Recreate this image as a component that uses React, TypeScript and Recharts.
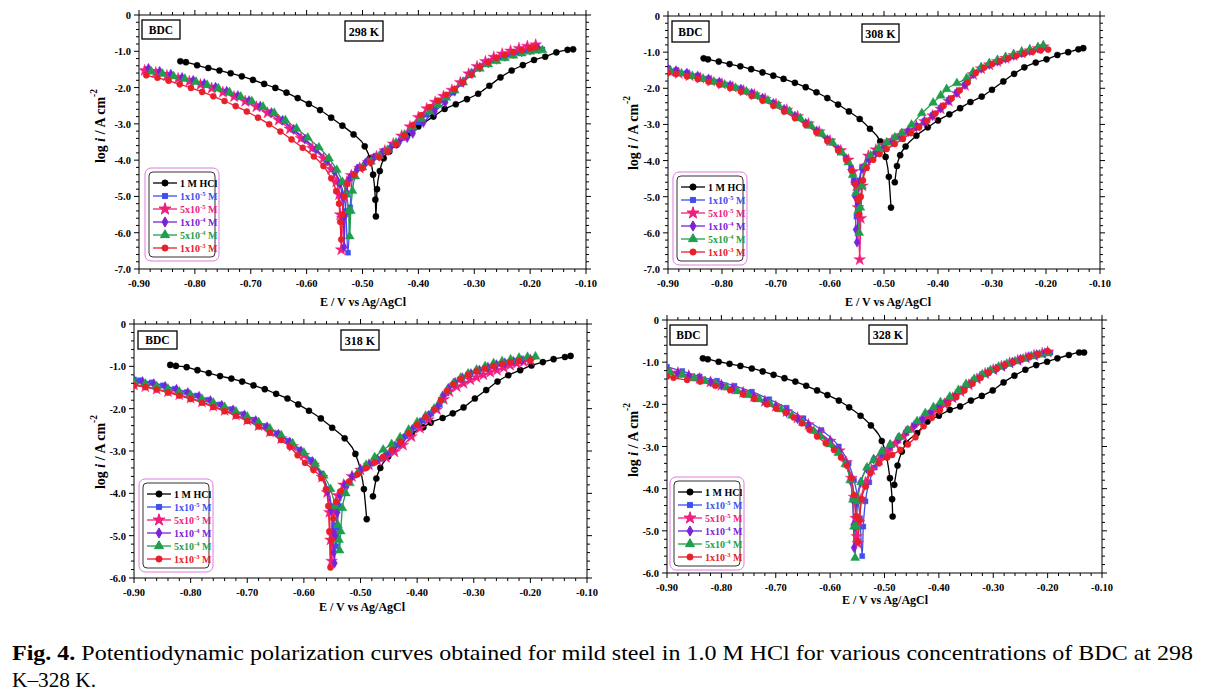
import React from 'react';
import { LineChart, Line, XAxis, YAxis, Symbols } from 'recharts';

type P = [number, number | null];

const FONT = '"Liberation Serif", "Times New Roman", serif';

// ---------- series meta ----------
const SERIES_NAMES = ['1 M HCl', '1x10-5 M', '5x10-5 M', '1x10-4 M', '5x10-4 M', '1x10-3 M'];
const LEGEND_PARTS: string[][] = [
  ['1 M HCl'],
  ['1x10', '-5', ' M'],
  ['5x10', '-5', ' M'],
  ['1x10', '-4', ' M'],
  ['5x10', '-4', ' M'],
  ['1x10', '-3', ' M'],
];
const SERIES_COLORS = ['#000000', '#3d4ff0', '#f01e7c', '#7b22d8', '#1f9e4c', '#e8202a'];
const SERIES_SHAPES = ['circle', 'square', 'star', 'diamond', 'triangle', 'circle'];
const SHAPE_SIZE: Record<string, number> = { circle: 30, square: 26, star: 44, diamond: 30, triangle: 36 };

// ---------- ticks ----------
const X_MAJOR = [-0.9, -0.8, -0.7, -0.6, -0.5, -0.4, -0.3, -0.2, -0.1];
const Y_MAJOR_7 = [0, -1, -2, -3, -4, -5, -6, -7];
const Y_MAJOR_6 = [0, -1, -2, -3, -4, -5, -6];
const PANEL_TEMPS = ['298 K', '308 K', '318 K', '328 K'];

// ---------- 298 K ----------
const hcl298: P[] = [[-0.826,-1.275],[-0.816,-1.30],[-0.796,-1.385],[-0.776,-1.46],[-0.756,-1.53],[-0.736,-1.605],[-0.716,-1.69],[-0.696,-1.79],[-0.676,-1.90],[-0.656,-2.01],[-0.636,-2.14],[-0.616,-2.29],[-0.596,-2.45],[-0.576,-2.62],[-0.556,-2.83],[-0.536,-3.05],[-0.516,-3.29],[-0.496,-3.62],[-0.487,-3.95],[-0.481,-4.40],[-0.477,-5.09],[-0.476,-5.55],[-0.474,-4.80],[-0.469,-4.30],[-0.462,-3.95],[-0.452,-3.76],[-0.44,-3.58],[-0.42,-3.32],[-0.40,-3.07],[-0.373,-2.80],[-0.353,-2.59],[-0.333,-2.46],[-0.313,-2.32],[-0.293,-2.17],[-0.273,-1.95],[-0.253,-1.72],[-0.233,-1.53],[-0.213,-1.38],[-0.193,-1.24],[-0.173,-1.15],[-0.153,-1.03],[-0.133,-0.96],[-0.123,-0.945]];
const blue298: P[] = [[-0.885,-1.49],[-0.865,-1.57],[-0.845,-1.65],[-0.825,-1.73],[-0.805,-1.81],[-0.785,-1.90],[-0.765,-2.00],[-0.745,-2.11],[-0.725,-2.23],[-0.705,-2.36],[-0.685,-2.52],[-0.665,-2.69],[-0.645,-2.90],[-0.625,-3.16],[-0.605,-3.42],[-0.585,-3.70],[-0.565,-4.00],[-0.55,-4.30],[-0.54,-4.62],[-0.534,-4.95],[-0.530,-5.40],[-0.526,-6.55],[-0.522,-5.3],[-0.517,-4.38],[-0.505,-4.18],[-0.49,-4.02],[-0.475,-3.88],[-0.46,-3.74],[-0.445,-3.57],[-0.43,-3.38],[-0.415,-3.17],[-0.40,-2.96],[-0.385,-2.75],[-0.37,-2.55],[-0.355,-2.36],[-0.34,-2.14],[-0.325,-1.90],[-0.31,-1.66],[-0.295,-1.47],[-0.28,-1.34],[-0.265,-1.23],[-0.25,-1.15],[-0.235,-1.08],[-0.22,-1.03],[-0.205,-0.99],[-0.19,-0.96],[-0.178,-0.95]];
const pink298: P[] = [[-0.89,-1.53],[-0.87,-1.59],[-0.85,-1.67],[-0.83,-1.75],[-0.81,-1.83],[-0.79,-1.92],[-0.77,-2.02],[-0.75,-2.13],[-0.73,-2.25],[-0.71,-2.38],[-0.69,-2.53],[-0.67,-2.70],[-0.65,-2.90],[-0.63,-3.14],[-0.61,-3.40],[-0.59,-3.67],[-0.57,-3.95],[-0.556,-4.25],[-0.547,-4.60],[-0.542,-4.95],[-0.540,-5.5],[-0.538,-6.47],[-0.536,-5.6],[-0.533,-5.0],[-0.528,-4.6],[-0.52,-4.42],[-0.505,-4.22],[-0.49,-4.06],[-0.475,-3.90],[-0.46,-3.74],[-0.445,-3.55],[-0.43,-3.33],[-0.415,-3.08],[-0.40,-2.82],[-0.385,-2.58],[-0.37,-2.40],[-0.355,-2.24],[-0.34,-2.07],[-0.325,-1.86],[-0.31,-1.62],[-0.295,-1.42],[-0.28,-1.28],[-0.265,-1.16],[-0.25,-1.07],[-0.235,-0.99],[-0.22,-0.92],[-0.205,-0.86],[-0.19,-0.82]];
const purple298: P[] = [[-0.883,-1.47],[-0.863,-1.55],[-0.843,-1.63],[-0.823,-1.72],[-0.803,-1.80],[-0.783,-1.89],[-0.763,-1.99],[-0.743,-2.10],[-0.723,-2.22],[-0.703,-2.36],[-0.683,-2.51],[-0.663,-2.69],[-0.643,-2.90],[-0.623,-3.15],[-0.603,-3.42],[-0.583,-3.70],[-0.563,-4.02],[-0.550,-4.32],[-0.541,-4.65],[-0.536,-5.0],[-0.534,-5.6],[-0.533,-6.39],[-0.531,-5.5],[-0.528,-4.9],[-0.523,-4.5],[-0.51,-4.25],[-0.495,-4.08],[-0.48,-3.94],[-0.465,-3.80],[-0.45,-3.66],[-0.435,-3.52],[-0.42,-3.38],[-0.41,-3.26],[-0.391,-2.96],[-0.371,-2.66],[-0.352,-2.41],[-0.335,-2.10],[-0.32,-1.84],[-0.305,-1.60],[-0.29,-1.44],[-0.275,-1.32],[-0.26,-1.22],[-0.245,-1.14],[-0.23,-1.07],[-0.215,-1.02],[-0.20,-0.97],[-0.185,-0.93]];
const green298: P[] = [[-0.878,-1.56],[-0.858,-1.62],[-0.838,-1.69],[-0.818,-1.76],[-0.798,-1.84],[-0.778,-1.93],[-0.758,-2.02],[-0.738,-2.13],[-0.718,-2.25],[-0.698,-2.38],[-0.678,-2.53],[-0.658,-2.70],[-0.638,-2.90],[-0.618,-3.13],[-0.598,-3.38],[-0.578,-3.65],[-0.560,-3.95],[-0.546,-4.27],[-0.536,-4.60],[-0.529,-4.95],[-0.525,-5.4],[-0.523,-6.10],[-0.521,-5.4],[-0.518,-4.85],[-0.513,-4.45],[-0.50,-4.20],[-0.485,-4.04],[-0.47,-3.88],[-0.455,-3.72],[-0.44,-3.52],[-0.425,-3.30],[-0.41,-3.08],[-0.395,-2.86],[-0.38,-2.66],[-0.365,-2.47],[-0.35,-2.28],[-0.335,-2.08],[-0.32,-1.86],[-0.305,-1.64],[-0.29,-1.48],[-0.275,-1.36],[-0.26,-1.27],[-0.245,-1.19],[-0.23,-1.12],[-0.215,-1.06],[-0.20,-1.01],[-0.188,-0.98],[-0.178,-0.97]];
const red298: P[] = [[-0.887,-1.66],[-0.867,-1.73],[-0.847,-1.81],[-0.827,-1.91],[-0.807,-2.01],[-0.787,-2.12],[-0.767,-2.24],[-0.747,-2.37],[-0.727,-2.51],[-0.707,-2.66],[-0.687,-2.83],[-0.667,-3.01],[-0.647,-3.21],[-0.627,-3.43],[-0.607,-3.66],[-0.587,-3.90],[-0.570,-4.16],[-0.556,-4.50],[-0.547,-4.85],[-0.542,-5.2],[-0.540,-5.7],[-0.538,-6.19],[-0.536,-5.5],[-0.533,-5.0],[-0.527,-4.65],[-0.515,-4.40],[-0.50,-4.22],[-0.485,-4.06],[-0.47,-3.92],[-0.455,-3.76],[-0.44,-3.56],[-0.425,-3.32],[-0.41,-3.04],[-0.395,-2.76],[-0.38,-2.54],[-0.365,-2.36],[-0.35,-2.20],[-0.335,-2.04],[-0.32,-1.86],[-0.305,-1.64],[-0.29,-1.44],[-0.275,-1.30],[-0.26,-1.18],[-0.245,-1.10],[-0.23,-1.03],[-0.215,-0.97],[-0.20,-0.92],[-0.19,-0.89]];

// ---------- 308 K ----------
const hcl308: P[] = [[-0.834,-1.17],[-0.826,-1.20],[-0.806,-1.26],[-0.786,-1.33],[-0.766,-1.39],[-0.746,-1.47],[-0.725,-1.56],[-0.705,-1.65],[-0.686,-1.74],[-0.665,-1.85],[-0.645,-1.97],[-0.625,-2.11],[-0.605,-2.27],[-0.585,-2.45],[-0.565,-2.64],[-0.545,-2.85],[-0.526,-3.12],[-0.507,-3.47],[-0.497,-3.90],[-0.491,-4.45],[-0.487,-5.30],[-0.4835,null],[-0.480,-4.60],[-0.476,-4.15],[-0.470,-3.85],[-0.460,-3.61],[-0.440,-3.31],[-0.419,-3.08],[-0.400,-2.89],[-0.379,-2.72],[-0.359,-2.55],[-0.340,-2.38],[-0.319,-2.23],[-0.300,-2.04],[-0.279,-1.81],[-0.259,-1.60],[-0.240,-1.42],[-0.219,-1.29],[-0.199,-1.20],[-0.179,-1.08],[-0.159,-1.00],[-0.140,-0.92],[-0.131,-0.89]];
const blue308: P[] = [[-0.900,-1.44],[-0.885,-1.50],[-0.865,-1.57],[-0.845,-1.65],[-0.825,-1.73],[-0.805,-1.82],[-0.785,-1.91],[-0.765,-2.01],[-0.745,-2.13],[-0.725,-2.26],[-0.705,-2.40],[-0.685,-2.57],[-0.665,-2.76],[-0.645,-2.96],[-0.625,-3.17],[-0.605,-3.40],[-0.585,-3.67],[-0.570,-3.93],[-0.561,-4.20],[-0.556,-4.55],[-0.553,-4.95],[-0.551,-5.55],[-0.549,-5.0],[-0.546,-4.55],[-0.541,-4.20],[-0.530,-3.95],[-0.515,-3.76],[-0.50,-3.60],[-0.485,-3.46],[-0.47,-3.32],[-0.455,-3.18],[-0.44,-3.04],[-0.425,-2.90],[-0.41,-2.74],[-0.395,-2.54],[-0.38,-2.32],[-0.365,-2.11],[-0.35,-1.90],[-0.335,-1.60],[-0.32,-1.45],[-0.305,-1.34],[-0.29,-1.26],[-0.275,-1.19],[-0.26,-1.12],[-0.245,-1.05],[-0.23,-0.98],[-0.215,-0.91],[-0.205,-0.86]];
const pink308: P[] = [[-0.895,-1.55],[-0.88,-1.59],[-0.86,-1.65],[-0.84,-1.72],[-0.82,-1.80],[-0.80,-1.88],[-0.78,-1.97],[-0.76,-2.07],[-0.74,-2.18],[-0.72,-2.30],[-0.70,-2.44],[-0.68,-2.60],[-0.66,-2.78],[-0.64,-2.98],[-0.62,-3.20],[-0.60,-3.45],[-0.58,-3.72],[-0.566,-3.98],[-0.557,-4.30],[-0.551,-4.70],[-0.548,-5.30],[-0.545,-6.74],[-0.543,-5.6],[-0.540,-4.7],[-0.535,-4.15],[-0.529,-3.87],[-0.515,-3.70],[-0.50,-3.57],[-0.485,-3.44],[-0.47,-3.31],[-0.455,-3.18],[-0.44,-3.05],[-0.425,-2.92],[-0.41,-2.76],[-0.395,-2.57],[-0.38,-2.36],[-0.365,-2.14],[-0.35,-1.92],[-0.335,-1.62],[-0.32,-1.46],[-0.305,-1.35],[-0.29,-1.26],[-0.275,-1.17],[-0.26,-1.09],[-0.245,-1.02],[-0.23,-0.96],[-0.215,-0.90],[-0.205,-0.85]];
const purple308: P[] = [[-0.90,-1.46],[-0.885,-1.51],[-0.865,-1.58],[-0.845,-1.66],[-0.825,-1.74],[-0.805,-1.83],[-0.785,-1.92],[-0.765,-2.02],[-0.745,-2.14],[-0.725,-2.27],[-0.705,-2.42],[-0.685,-2.58],[-0.665,-2.77],[-0.645,-2.97],[-0.625,-3.18],[-0.605,-3.42],[-0.585,-3.69],[-0.570,-3.95],[-0.561,-4.25],[-0.556,-4.60],[-0.553,-5.0],[-0.552,-5.91],[-0.550,-6.26],[-0.548,-5.2],[-0.545,-4.6],[-0.540,-4.22],[-0.528,-3.97],[-0.515,-3.78],[-0.50,-3.62],[-0.485,-3.48],[-0.47,-3.34],[-0.455,-3.20],[-0.44,-3.07],[-0.425,-2.93],[-0.41,-2.76],[-0.395,-2.55],[-0.38,-2.33],[-0.365,-2.12],[-0.35,-1.90],[-0.335,-1.60],[-0.32,-1.45],[-0.305,-1.34],[-0.29,-1.25],[-0.275,-1.17],[-0.26,-1.09],[-0.245,-1.02],[-0.23,-0.96],[-0.215,-0.89],[-0.205,-0.84]];
const green308: P[] = [[-0.895,-1.53],[-0.875,-1.59],[-0.855,-1.66],[-0.835,-1.74],[-0.815,-1.82],[-0.795,-1.90],[-0.775,-1.99],[-0.755,-2.09],[-0.735,-2.21],[-0.715,-2.34],[-0.695,-2.48],[-0.675,-2.64],[-0.655,-2.83],[-0.635,-3.04],[-0.615,-3.26],[-0.595,-3.51],[-0.578,-3.78],[-0.566,-4.05],[-0.558,-4.40],[-0.552,-4.90],[-0.548,-5.40],[-0.546,-6.00],[-0.544,-5.3],[-0.541,-4.7],[-0.535,-4.15],[-0.525,-3.86],[-0.51,-3.66],[-0.495,-3.50],[-0.48,-3.36],[-0.467,-3.24],[-0.449,-3.01],[-0.43,-2.69],[-0.409,-2.40],[-0.395,-2.20],[-0.384,-2.02],[-0.365,-1.86],[-0.347,-1.72],[-0.335,-1.55],[-0.32,-1.42],[-0.305,-1.31],[-0.29,-1.22],[-0.275,-1.14],[-0.26,-1.06],[-0.245,-0.99],[-0.23,-0.93],[-0.215,-0.87],[-0.205,-0.82]];
const red308: P[] = [[-0.90,-1.57],[-0.885,-1.60],[-0.865,-1.67],[-0.845,-1.74],[-0.825,-1.82],[-0.805,-1.90],[-0.785,-1.99],[-0.765,-2.09],[-0.745,-2.21],[-0.725,-2.34],[-0.705,-2.48],[-0.685,-2.64],[-0.665,-2.82],[-0.645,-3.01],[-0.625,-3.22],[-0.605,-3.46],[-0.585,-3.72],[-0.570,-3.98],[-0.560,-4.28],[-0.553,-4.65],[-0.549,-5.08],[-0.546,-5.50],[-0.543,-5.0],[-0.539,-4.55],[-0.532,-4.20],[-0.52,-3.98],[-0.508,-3.82],[-0.495,-3.68],[-0.48,-3.54],[-0.465,-3.40],[-0.45,-3.24],[-0.435,-3.08],[-0.42,-2.90],[-0.405,-2.70],[-0.39,-2.48],[-0.375,-2.28],[-0.36,-2.06],[-0.345,-1.84],[-0.33,-1.58],[-0.315,-1.43],[-0.30,-1.33],[-0.285,-1.25],[-0.27,-1.17],[-0.255,-1.10],[-0.24,-1.04],[-0.225,-0.99],[-0.21,-0.95],[-0.196,-0.93]];

// ---------- 318 K ----------
const hcl318: P[] = [[-0.836,-0.967],[-0.826,-0.99],[-0.807,-1.02],[-0.788,-1.09],[-0.768,-1.16],[-0.748,-1.23],[-0.728,-1.29],[-0.709,-1.36],[-0.689,-1.45],[-0.669,-1.54],[-0.649,-1.65],[-0.629,-1.76],[-0.610,-1.90],[-0.591,-2.05],[-0.570,-2.23],[-0.550,-2.45],[-0.528,-2.70],[-0.509,-3.07],[-0.500,-3.45],[-0.494,-3.90],[-0.489,-4.61],[-0.4835,null],[-0.478,-4.07],[-0.472,-3.65],[-0.465,-3.40],[-0.451,-3.13],[-0.430,-2.82],[-0.410,-2.59],[-0.389,-2.44],[-0.376,-2.33],[-0.355,-2.22],[-0.337,-2.11],[-0.318,-1.97],[-0.298,-1.76],[-0.278,-1.56],[-0.258,-1.36],[-0.239,-1.21],[-0.218,-1.09],[-0.198,-0.98],[-0.178,-0.90],[-0.159,-0.83],[-0.139,-0.78],[-0.129,-0.755]];
const blue318: P[] = [[-0.90,-1.31],[-0.89,-1.33],[-0.869,-1.38],[-0.849,-1.45],[-0.828,-1.53],[-0.807,-1.61],[-0.789,-1.69],[-0.769,-1.79],[-0.748,-1.90],[-0.728,-2.01],[-0.707,-2.13],[-0.688,-2.26],[-0.668,-2.41],[-0.648,-2.58],[-0.628,-2.76],[-0.608,-2.97],[-0.588,-3.21],[-0.569,-3.55],[-0.558,-3.90],[-0.551,-4.30],[-0.547,-4.75],[-0.543,-5.25],[-0.541,-4.8],[-0.538,-4.3],[-0.532,-4.0],[-0.525,-3.82],[-0.51,-3.58],[-0.495,-3.42],[-0.48,-3.30],[-0.465,-3.19],[-0.45,-3.05],[-0.435,-2.86],[-0.42,-2.65],[-0.405,-2.44],[-0.39,-2.28],[-0.375,-2.12],[-0.36,-1.90],[-0.348,-1.64],[-0.338,-1.45],[-0.325,-1.31],[-0.31,-1.20],[-0.295,-1.12],[-0.28,-1.05],[-0.265,-0.99],[-0.25,-0.94],[-0.235,-0.90],[-0.22,-0.87],[-0.20,-0.85]];
const pink318: P[] = [[-0.90,-1.44],[-0.88,-1.48],[-0.86,-1.54],[-0.84,-1.60],[-0.82,-1.67],[-0.80,-1.75],[-0.78,-1.84],[-0.76,-1.94],[-0.74,-2.04],[-0.72,-2.15],[-0.70,-2.27],[-0.68,-2.40],[-0.66,-2.55],[-0.64,-2.71],[-0.62,-2.89],[-0.60,-3.10],[-0.583,-3.33],[-0.568,-3.62],[-0.559,-3.98],[-0.555,-4.45],[-0.553,-5.10],[-0.551,-5.60],[-0.549,-5.0],[-0.546,-4.45],[-0.540,-4.05],[-0.530,-3.80],[-0.515,-3.60],[-0.50,-3.45],[-0.485,-3.33],[-0.47,-3.23],[-0.455,-3.15],[-0.44,-3.02],[-0.425,-2.86],[-0.41,-2.66],[-0.395,-2.46],[-0.38,-2.26],[-0.365,-2.02],[-0.353,-1.78],[-0.343,-1.60],[-0.33,-1.48],[-0.318,-1.40],[-0.306,-1.32],[-0.295,-1.26],[-0.283,-1.20],[-0.271,-1.14],[-0.259,-1.09],[-0.247,-1.03],[-0.236,-0.97],[-0.224,-0.93],[-0.212,-0.89],[-0.20,-0.86]];
const purple318: P[] = [[-0.90,-1.34],[-0.885,-1.36],[-0.865,-1.41],[-0.845,-1.47],[-0.825,-1.54],[-0.805,-1.62],[-0.785,-1.71],[-0.765,-1.81],[-0.745,-1.92],[-0.725,-2.03],[-0.705,-2.15],[-0.685,-2.28],[-0.665,-2.43],[-0.645,-2.60],[-0.625,-2.79],[-0.605,-3.00],[-0.585,-3.25],[-0.568,-3.58],[-0.558,-3.95],[-0.552,-4.40],[-0.549,-4.90],[-0.547,-5.40],[-0.546,-5.65],[-0.544,-5.0],[-0.541,-4.45],[-0.536,-4.05],[-0.528,-3.80],[-0.515,-3.60],[-0.50,-3.44],[-0.485,-3.32],[-0.47,-3.20],[-0.455,-3.07],[-0.44,-2.91],[-0.425,-2.72],[-0.41,-2.52],[-0.395,-2.33],[-0.38,-2.16],[-0.365,-1.96],[-0.355,-1.70],[-0.345,-1.52],[-0.333,-1.38],[-0.32,-1.27],[-0.305,-1.17],[-0.29,-1.09],[-0.275,-1.02],[-0.26,-0.96],[-0.245,-0.92],[-0.23,-0.88],[-0.215,-0.86],[-0.20,-0.84]];
const green318: P[] = [[-0.90,-1.37],[-0.88,-1.41],[-0.86,-1.47],[-0.84,-1.53],[-0.82,-1.60],[-0.80,-1.68],[-0.78,-1.77],[-0.76,-1.86],[-0.74,-1.96],[-0.72,-2.07],[-0.70,-2.19],[-0.68,-2.32],[-0.66,-2.47],[-0.64,-2.63],[-0.62,-2.82],[-0.60,-3.04],[-0.58,-3.30],[-0.565,-3.58],[-0.553,-3.90],[-0.545,-4.30],[-0.540,-4.75],[-0.538,-5.10],[-0.537,-5.35],[-0.535,-4.9],[-0.532,-4.35],[-0.526,-4.0],[-0.519,-3.76],[-0.505,-3.52],[-0.49,-3.33],[-0.475,-3.15],[-0.46,-2.97],[-0.445,-2.84],[-0.43,-2.68],[-0.415,-2.50],[-0.40,-2.32],[-0.385,-2.17],[-0.37,-2.00],[-0.358,-1.80],[-0.347,-1.57],[-0.336,-1.40],[-0.323,-1.27],[-0.31,-1.17],[-0.295,-1.08],[-0.28,-1.00],[-0.265,-0.93],[-0.25,-0.88],[-0.235,-0.84],[-0.22,-0.80],[-0.205,-0.78],[-0.191,-0.77]];
const red318: P[] = [[-0.90,-1.45],[-0.88,-1.49],[-0.86,-1.55],[-0.84,-1.62],[-0.82,-1.69],[-0.80,-1.77],[-0.78,-1.86],[-0.76,-1.96],[-0.74,-2.06],[-0.72,-2.17],[-0.70,-2.29],[-0.68,-2.42],[-0.66,-2.57],[-0.64,-2.74],[-0.625,-2.90],[-0.611,-3.10],[-0.598,-3.28],[-0.583,-3.45],[-0.569,-3.64],[-0.561,-3.90],[-0.557,-4.30],[-0.555,-4.90],[-0.553,-5.75],[-0.551,-5.1],[-0.548,-4.6],[-0.543,-4.2],[-0.535,-3.95],[-0.52,-3.72],[-0.505,-3.55],[-0.49,-3.40],[-0.475,-3.27],[-0.46,-3.14],[-0.445,-2.97],[-0.43,-2.78],[-0.415,-2.58],[-0.40,-2.38],[-0.385,-2.20],[-0.37,-2.02],[-0.358,-1.80],[-0.347,-1.58],[-0.336,-1.42],[-0.323,-1.30],[-0.31,-1.20],[-0.295,-1.12],[-0.28,-1.05],[-0.265,-0.99],[-0.25,-0.94],[-0.235,-0.90],[-0.22,-0.87],[-0.20,-0.85]];

// ---------- 328 K ----------
const hcl328: P[] = [[-0.834,-0.91],[-0.825,-0.93],[-0.805,-0.99],[-0.785,-1.04],[-0.765,-1.09],[-0.744,-1.15],[-0.724,-1.22],[-0.704,-1.30],[-0.684,-1.38],[-0.664,-1.46],[-0.644,-1.56],[-0.624,-1.67],[-0.605,-1.78],[-0.584,-1.91],[-0.565,-2.07],[-0.544,-2.27],[-0.525,-2.50],[-0.505,-2.87],[-0.496,-3.25],[-0.490,-3.75],[-0.486,-4.25],[-0.485,-4.66],[-0.4835,null],[-0.482,-3.91],[-0.476,-3.45],[-0.468,-3.12],[-0.460,-2.92],[-0.440,-2.68],[-0.421,-2.41],[-0.400,-2.27],[-0.380,-2.13],[-0.361,-2.05],[-0.341,-1.91],[-0.321,-1.80],[-0.301,-1.67],[-0.281,-1.48],[-0.261,-1.32],[-0.241,-1.18],[-0.221,-1.07],[-0.201,-0.99],[-0.182,-0.91],[-0.161,-0.83],[-0.142,-0.77],[-0.133,-0.77]];
const blue328: P[] = [[-0.90,-1.11],[-0.872,-1.21],[-0.84,-1.34],[-0.808,-1.44],[-0.776,-1.56],[-0.744,-1.70],[-0.712,-1.88],[-0.68,-2.08],[-0.649,-2.33],[-0.616,-2.61],[-0.584,-3.00],[-0.566,-3.40],[-0.556,-3.80],[-0.549,-4.25],[-0.545,-4.70],[-0.541,-5.60],[-0.539,-4.9],[-0.535,-4.3],[-0.528,-3.85],[-0.518,-3.50],[-0.505,-3.25],[-0.49,-3.05],[-0.475,-2.86],[-0.46,-2.68],[-0.445,-2.50],[-0.43,-2.36],[-0.415,-2.20],[-0.40,-2.05],[-0.385,-1.93],[-0.37,-1.80],[-0.355,-1.64],[-0.34,-1.48],[-0.325,-1.37],[-0.31,-1.26],[-0.295,-1.17],[-0.28,-1.09],[-0.265,-1.01],[-0.25,-0.94],[-0.235,-0.88],[-0.22,-0.83],[-0.205,-0.79],[-0.195,-0.77]];
const pink328: P[] = [[-0.90,-1.20],[-0.88,-1.25],[-0.86,-1.32],[-0.84,-1.39],[-0.82,-1.47],[-0.80,-1.55],[-0.78,-1.63],[-0.76,-1.72],[-0.74,-1.82],[-0.72,-1.93],[-0.70,-2.05],[-0.68,-2.17],[-0.66,-2.32],[-0.64,-2.48],[-0.62,-2.67],[-0.60,-2.87],[-0.583,-3.10],[-0.570,-3.38],[-0.561,-3.75],[-0.556,-4.20],[-0.553,-4.70],[-0.551,-5.13],[-0.549,-5.30],[-0.547,-4.8],[-0.543,-4.25],[-0.535,-3.85],[-0.524,-3.55],[-0.51,-3.32],[-0.495,-3.12],[-0.48,-2.94],[-0.465,-2.76],[-0.45,-2.58],[-0.435,-2.43],[-0.42,-2.28],[-0.405,-2.13],[-0.39,-1.99],[-0.375,-1.85],[-0.36,-1.70],[-0.345,-1.54],[-0.33,-1.40],[-0.315,-1.27],[-0.30,-1.18],[-0.285,-1.10],[-0.27,-1.02],[-0.255,-0.96],[-0.24,-0.90],[-0.225,-0.84],[-0.21,-0.79],[-0.20,-0.76]];
const purple328: P[] = [[-0.90,-1.22],[-0.88,-1.27],[-0.86,-1.33],[-0.84,-1.40],[-0.82,-1.47],[-0.80,-1.55],[-0.78,-1.64],[-0.76,-1.73],[-0.74,-1.83],[-0.72,-1.94],[-0.70,-2.06],[-0.68,-2.19],[-0.66,-2.34],[-0.64,-2.50],[-0.62,-2.69],[-0.60,-2.89],[-0.583,-3.12],[-0.571,-3.40],[-0.563,-3.80],[-0.559,-4.25],[-0.557,-4.86],[-0.556,-5.40],[-0.554,-4.9],[-0.551,-4.3],[-0.544,-3.85],[-0.533,-3.52],[-0.52,-3.30],[-0.505,-3.12],[-0.49,-2.96],[-0.475,-2.80],[-0.46,-2.64],[-0.445,-2.49],[-0.43,-2.35],[-0.415,-2.21],[-0.40,-2.07],[-0.385,-1.94],[-0.37,-1.81],[-0.355,-1.65],[-0.34,-1.49],[-0.325,-1.36],[-0.31,-1.25],[-0.295,-1.16],[-0.28,-1.08],[-0.265,-1.00],[-0.25,-0.93],[-0.235,-0.87],[-0.22,-0.82],[-0.205,-0.78]];
const green328: P[] = [[-0.895,-1.24],[-0.872,-1.30],[-0.85,-1.38],[-0.83,-1.45],[-0.81,-1.52],[-0.79,-1.60],[-0.77,-1.69],[-0.75,-1.78],[-0.73,-1.88],[-0.71,-1.99],[-0.69,-2.12],[-0.67,-2.27],[-0.65,-2.44],[-0.63,-2.63],[-0.618,-2.76],[-0.60,-2.95],[-0.585,-3.15],[-0.572,-3.42],[-0.563,-3.80],[-0.558,-4.26],[-0.556,-4.90],[-0.554,-5.64],[-0.552,-4.9],[-0.549,-4.3],[-0.543,-3.85],[-0.532,-3.50],[-0.52,-3.32],[-0.505,-3.12],[-0.489,-2.96],[-0.473,-2.78],[-0.457,-2.61],[-0.44,-2.40],[-0.425,-2.21],[-0.41,-2.07],[-0.397,-1.95],[-0.38,-1.82],[-0.364,-1.66],[-0.35,-1.52],[-0.335,-1.40],[-0.32,-1.29],[-0.305,-1.19],[-0.29,-1.11],[-0.275,-1.04],[-0.26,-0.98],[-0.245,-0.92],[-0.23,-0.86],[-0.215,-0.82],[-0.20,-0.79]];
const red328: P[] = [[-0.90,-1.34],[-0.888,-1.37],[-0.863,-1.42],[-0.839,-1.46],[-0.811,-1.56],[-0.784,-1.66],[-0.76,-1.76],[-0.74,-1.87],[-0.716,-2.00],[-0.699,-2.10],[-0.682,-2.19],[-0.667,-2.31],[-0.652,-2.45],[-0.638,-2.60],[-0.624,-2.76],[-0.608,-2.92],[-0.593,-3.08],[-0.580,-3.26],[-0.569,-3.45],[-0.561,-3.75],[-0.556,-4.15],[-0.552,-4.65],[-0.549,-5.25],[-0.546,-4.75],[-0.542,-4.25],[-0.535,-3.95],[-0.526,-3.63],[-0.51,-3.40],[-0.495,-3.26],[-0.486,-3.20],[-0.471,-3.08],[-0.457,-2.95],[-0.443,-2.78],[-0.428,-2.52],[-0.413,-2.32],[-0.398,-2.14],[-0.383,-1.98],[-0.368,-1.83],[-0.353,-1.67],[-0.338,-1.51],[-0.323,-1.37],[-0.308,-1.25],[-0.293,-1.15],[-0.278,-1.07],[-0.263,-0.99],[-0.248,-0.92],[-0.233,-0.86],[-0.218,-0.81],[-0.20,-0.74]];

const SERIES_298 = [hcl298, blue298, pink298, purple298, green298, red298];
const SERIES_308 = [hcl308, blue308, pink308, purple308, green308, red308];
const SERIES_318 = [hcl318, blue318, pink318, purple318, green318, red318];
const SERIES_328 = [hcl328, blue328, pink328, purple328, green328, red328];

// ---------- layout (page pixels) ----------
type Layout = {
  plot: [number, number, number, number]; // left, top, right, bottom
  bdc: [number, number, number, number];
  temp: [number, number, number, number];
  legend: [number, number];
  xTitle: [number, number];
  yTitle: [number, number];
};
const LAYOUTS: Layout[] = [
  { plot: [139, 15, 586, 269], bdc: [142, 20, 38, 19], temp: [345, 21, 38, 20], legend: [145, 168], xTitle: [363, 306], yTitle: [100, 126] },
  { plot: [668, 16, 1100, 269], bdc: [672, 21, 37, 21], temp: [862, 24, 37, 18], legend: [673, 172], xTitle: [888, 306], yTitle: [633, 133] },
  { plot: [134, 324, 587, 578], bdc: [138, 331, 39, 18], temp: [341, 330, 38, 20], legend: [139, 479], xTitle: [362, 611], yTitle: [100, 452] },
  { plot: [667, 320, 1102, 573], bdc: [670, 325, 37, 20], temp: [869, 325, 38, 19], legend: [670, 477], xTitle: [885, 604], yTitle: [633, 440] },
];

const subdivide = (major: number[], n: number) => {
  const s = [...major].sort((a, b) => a - b);
  const out: number[] = [];
  for (let i = 0; i < s.length; i++) {
    out.push(s[i]);
    if (i < s.length - 1) {
      for (let k = 1; k < n; k++) out.push(Math.round((s[i] + (k * (s[i + 1] - s[i])) / n) * 1000) / 1000);
    }
  }
  return out;
};
const isMajor = (v: number, major: number[]) => major.some((m) => Math.abs(m - v) < 1e-6);

const makeXTick = (side: 'bottom' | 'top') => (props: any) => {
  const { x, y, payload } = props;
  const major = isMajor(payload.value, X_MAJOR);
  const len = major ? 5 : 3;
  const dir = side === 'bottom' ? 1 : -1;
  return (
    <g>
      <line x1={x} x2={x} y1={y} y2={y + dir * len} stroke="#000" strokeWidth={1} />
      {side === 'bottom' && major ? (
        <text x={x} y={y + 18} textAnchor="middle" fontFamily={FONT} fontWeight="bold" fontSize={10.5} fill="#000">
          {payload.value.toFixed(2)}
        </text>
      ) : null}
    </g>
  );
};

const makeYTick = (side: 'left' | 'right', major: number[]) => (props: any) => {
  const { x, y, payload } = props;
  const mj = isMajor(payload.value, major);
  const len = mj ? 5 : 3;
  const dir = side === 'left' ? -1 : 1;
  const v = payload.value as number;
  return (
    <g>
      <line x1={x} x2={x + dir * len} y1={y} y2={y} stroke="#000" strokeWidth={1} />
      {side === 'left' && mj ? (
        <text x={x - 8} y={y + 4} textAnchor="end" fontFamily={FONT} fontWeight="bold" fontSize={10.5} fill="#000">
          {Math.abs(v) < 1e-9 ? '0' : v.toFixed(1)}
        </text>
      ) : null}
    </g>
  );
};

const makeDot = (shape: string, color: string) => (props: any) => {
  const { cx, cy, index } = props;
  if (cx == null || cy == null || Number.isNaN(cy) || props.value == null) return <g key={`e${index}`} />;
  return (
    <Symbols key={`d${index}`} cx={cx} cy={cy} type={shape as any} size={SHAPE_SIZE[shape]} fill={color} stroke={color} strokeWidth={0.4} />
  );
};

const toRows = (pts: P[]) => pts.map(([x, y]) => ({ x, y }));

function Panel({ layout, series, yMajor }: { layout: Layout; series: P[][]; yMajor: number[] }) {
  const [l, t, r, b] = layout.plot;
  const padL = 60, padT = 10, padR = 12, padB = 40;
  const w = r - l + padL + padR;
  const h = b - t + padT + padB;
  const xTicks = subdivide(X_MAJOR, 5);
  const yTicks = subdivide(yMajor, 5);
  const yMin = Math.min(...yMajor);
  return (
    <div style={{ position: 'absolute', left: l - padL, top: t - padT, width: w, height: h }}>
      <LineChart width={w} height={h} margin={{ top: padT, right: padR, bottom: 0, left: 0 }}>
        <XAxis xAxisId="b" dataKey="x" type="number" domain={[-0.9, -0.1]} allowDataOverflow ticks={xTicks} interval={0}
          height={padB} tickSize={0} tickMargin={0} tickLine={false} axisLine={{ stroke: '#000', strokeWidth: 1 }} tick={makeXTick('bottom')} />
        <XAxis xAxisId="t" dataKey="x" type="number" orientation="top" mirror domain={[-0.9, -0.1]} allowDataOverflow ticks={xTicks} interval={0}
          height={1} tickSize={0} tickMargin={0} tickLine={false} axisLine={{ stroke: '#000', strokeWidth: 1 }} tick={makeXTick('top')} />
        <YAxis yAxisId="l" type="number" domain={[yMin, 0]} allowDataOverflow ticks={yTicks} interval={0} width={padL}
          tickSize={0} tickMargin={0} tickLine={false} axisLine={{ stroke: '#000', strokeWidth: 1 }} tick={makeYTick('left', yMajor)} />
        <YAxis yAxisId="r" type="number" orientation="right" mirror domain={[yMin, 0]} allowDataOverflow ticks={yTicks} interval={0} width={1}
          tickSize={0} tickMargin={0} tickLine={false} axisLine={{ stroke: '#000', strokeWidth: 1 }} tick={makeYTick('right', yMajor)} />
        {series.map((pts, i) => (
          <Line key={SERIES_NAMES[i]} name={SERIES_NAMES[i]} xAxisId="b" yAxisId="l" data={toRows(pts)} dataKey="y"
            type="monotone" stroke={SERIES_COLORS[i]} strokeWidth={1.3} connectNulls={false}
            dot={makeDot(SERIES_SHAPES[i], SERIES_COLORS[i])} activeDot={false} isAnimationActive={false} />
        ))}
      </LineChart>
    </div>
  );
}

function Overlay({ layout, temp }: { layout: Layout; temp: string }) {
  const [bx, by, bw, bh] = layout.bdc;
  const [tx, ty, tw, th] = layout.temp;
  const [lx, ly] = layout.legend;
  const [xtx, xty] = layout.xTitle;
  const [ytx, yty] = layout.yTitle;
  return (
    <g>
      <rect x={bx} y={by} width={bw} height={bh} fill="#fff" stroke="#000" strokeWidth={1.3} />
      <text x={bx + bw / 2} y={by + bh / 2 + 4} textAnchor="middle" fontFamily={FONT} fontWeight="bold" fontSize={11.5}>BDC</text>
      <rect x={tx} y={ty} width={tw} height={th} fill="#fff" stroke="#000" strokeWidth={1.3} />
      <text x={tx + tw / 2} y={ty + th / 2 + 4.5} textAnchor="middle" fontFamily={FONT} fontWeight="bold" fontSize={12}>{temp}</text>

      <text x={xtx} y={xty} textAnchor="middle" fontFamily={FONT} fontWeight="bold" fontSize={12}>E / V vs Ag/AgCl</text>
      <text x={0} y={0} transform={`translate(${ytx},${yty}) rotate(-90)`} textAnchor="middle" dominantBaseline="central"
        fontFamily={FONT} fontWeight="bold" fontSize={14}>
        log <tspan fontStyle="italic">i</tspan> / A cm<tspan dy={-6} fontSize={9.5}>-2</tspan>
      </text>

      <rect x={lx} y={ly} width={74} height={93} rx={6} fill="#fff" stroke="#e27be0" strokeWidth={1} />
      <rect x={lx + 4} y={ly + 4} width={66} height={85} rx={4} fill="#fff" stroke="#333" strokeWidth={1} />
      {LEGEND_PARTS.map((parts, i) => {
        const cy = ly + 15 + i * 13;
        const c = SERIES_COLORS[i];
        const shape = SERIES_SHAPES[i];
        return (
          <g key={i}>
            <line x1={lx + 8} x2={lx + 32} y1={cy} y2={cy} stroke={c} strokeWidth={1.3} />
            <Symbols cx={lx + 20} cy={cy} type={shape as any} size={SHAPE_SIZE[shape]} fill={c} stroke={c} />
            <text x={lx + 35} y={cy + 3.5} fontFamily={FONT} fontWeight="bold" fontSize={10} fill={c}>
              {parts[0]}
              {parts.length > 1 ? <tspan dy={-4} fontSize={6.5}>{parts[1]}</tspan> : null}
              {parts.length > 1 ? <tspan dy={4}>{parts[2]}</tspan> : null}
            </text>
          </g>
        );
      })}
    </g>
  );
}

export default function App() {
  const panels = [
    { s: SERIES_298, y: Y_MAJOR_7 },
    { s: SERIES_308, y: Y_MAJOR_7 },
    { s: SERIES_318, y: Y_MAJOR_6 },
    { s: SERIES_328, y: Y_MAJOR_6 },
  ];
  return (
    <div style={{ position: 'absolute', left: 0, top: 0, width: 1209, height: 697, background: '#fff', overflow: 'hidden' }}>
      {panels.map((p, i) => (
        <Panel key={i} layout={LAYOUTS[i]} series={p.s} yMajor={p.y} />
      ))}
      <svg width={1209} height={697} style={{ position: 'absolute', left: 0, top: 0, pointerEvents: 'none' }}>
        {LAYOUTS.map((lay, i) => (
          <Overlay key={i} layout={lay} temp={PANEL_TEMPS[i]} />
        ))}
        <text x={12} y={660} fontFamily={FONT} fontSize={22} textLength={1181} lengthAdjust="spacingAndGlyphs">
          <tspan fontWeight="bold">Fig. 4.</tspan> Potentiodynamic polarization curves obtained for mild steel in 1.0 M HCl for various concentrations of BDC at 298
        </text>
        <text x={12} y={687} fontFamily={FONT} fontSize={22} textLength={84} lengthAdjust="spacingAndGlyphs">K–328 K.</text>
      </svg>
    </div>
  );
}
